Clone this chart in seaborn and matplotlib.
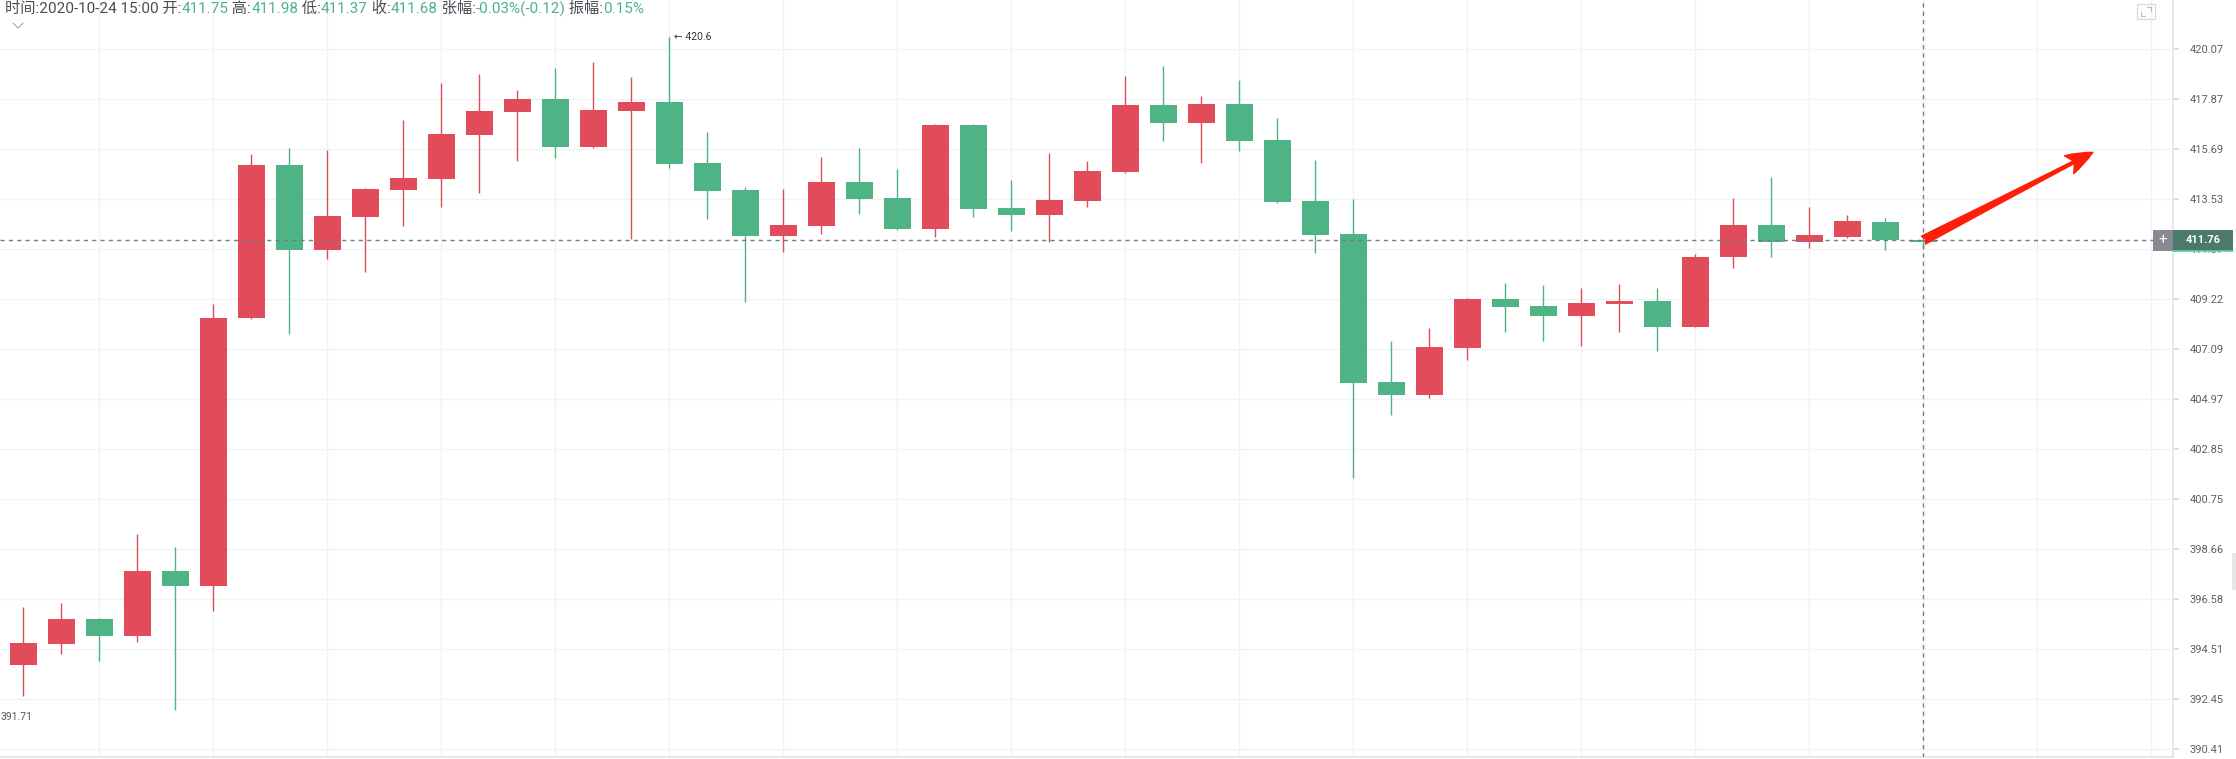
import seaborn as sns
import matplotlib
matplotlib.use('Agg')

import matplotlib.pyplot as plt
import matplotlib.patches as mpatches
from matplotlib.lines import Line2D
from matplotlib.ticker import NullLocator

# свечи (Open / High / Low / Close), 51 штука
opens = [393.86, 394.73, 395.75, 395.06, 397.74, 397.13, 408.44, 415.00, 411.34, 412.77,
         413.93, 414.41, 416.31, 417.32, 417.87, 415.79, 417.36, 417.74, 415.09, 413.92,
         411.94, 412.38, 414.27, 413.57, 412.22, 416.74, 413.14, 412.85, 413.46, 414.71,
         417.61, 416.84, 417.65, 416.08, 413.45, 412.02, 405.69, 405.15, 407.15, 409.22,
         408.92, 408.51, 409.02, 409.13, 408.03, 411.03, 412.41, 411.67, 411.89, 412.54,
         411.75]
highs = [396.25, 396.40, 395.81, 399.27, 398.74, 409.01, 415.50, 415.76, 415.66, 414.00,
         416.95, 418.59, 419.00, 418.27, 419.23, 419.51, 418.85, 420.60, 416.43, 414.05,
         413.96, 415.37, 415.73, 414.82, 416.81, 416.78, 414.34, 415.52, 415.20, 418.90,
         419.34, 418.00, 418.72, 417.04, 415.21, 413.53, 407.43, 407.98, 409.26, 409.90,
         409.82, 409.69, 409.86, 409.69, 411.16, 413.57, 414.48, 413.18, 412.84, 412.71,
         411.98]
lows = [392.57, 394.30, 394.00, 394.81, 392.01, 396.10, 408.38, 407.73, 410.97, 410.41,
        412.35, 413.18, 413.78, 415.20, 415.30, 415.75, 411.80, 414.88, 412.66, 409.11,
        411.25, 412.02, 412.89, 412.20, 411.90, 412.77, 412.16, 411.67, 413.20, 414.68,
        416.04, 415.10, 415.62, 413.38, 411.21, 401.64, 404.30, 405.01, 406.64, 407.83,
        407.42, 407.23, 407.83, 407.00, 408.03, 410.55, 411.03, 411.41, 411.85, 411.34,
        411.37]
closes = [394.76, 395.75, 395.06, 397.74, 397.13, 408.44, 415.00, 411.34, 412.80, 413.96,
          414.44, 416.34, 417.35, 417.87, 415.79, 417.39, 417.74, 415.06, 413.89, 411.94,
          412.41, 414.27, 413.54, 412.22, 416.74, 413.11, 412.85, 413.49, 414.74, 417.61,
          416.84, 417.65, 416.05, 413.42, 411.99, 405.66, 405.15, 407.17, 409.22, 408.89,
          408.51, 409.05, 409.13, 408.03, 411.03, 412.41, 411.67, 411.98, 412.58, 411.77,
          411.68]

price_ticks = [390.41, 392.45, 394.51, 396.58, 398.66, 400.75, 402.85, 404.97,
               407.09, 409.22, 411.37, 413.53, 415.69, 417.87, 420.07]
last_price = 411.76
max_mark = 420.6
min_mark = 391.71

header = [("时间:2020-10-24 15:00 开:", "#4a4d55"), ("411.75", "#4eb386"),
          (" 高:", "#4a4d55"), ("411.98", "#4eb386"),
          (" 低:", "#4a4d55"), ("411.37", "#4eb386"),
          (" 收:", "#4a4d55"), ("411.68", "#4eb386"),
          (" 张幅:", "#4a4d55"), ("-0.03%(-0.12)", "#4eb386"),
          (" 振幅:", "#4a4d55"), ("0.15%", "#4eb386")]

UP = "#e24b5a"
DOWN = "#4fb485"

sns.set_theme(style="white")
plt.rcParams['font.family'] = ['Roboto', 'Noto Sans CJK SC', 'DejaVu Sans']

W, H = 2236, 759
fig = plt.figure(figsize=(W / 100, H / 100), dpi=100)
ax = fig.add_axes([0, 1 - 757 / H, 2173 / W, 757 / H])

x = list(range(len(opens)))
colors = [UP if c >= o else DOWN for o, c in zip(opens, closes)]
bottoms = [min(o, c) for o, c in zip(opens, closes)]
heights = [max(abs(c - o), 0.03) for o, c in zip(opens, closes)]

ax.vlines(x, lows, highs, colors=colors, linewidth=1.0, zorder=3)
ax.bar(x, heights, bottom=bottoms, width=0.71, color=colors, linewidth=0, zorder=4)

ax.set_yscale('log')
ax.set_ylim(390.08, 422.24)
ax.set_xlim(-0.618, 56.57)
ax.set_yticks(price_ticks)
ax.set_yticklabels([f"{v:.2f}" for v in price_ticks])
ax.yaxis.set_minor_locator(NullLocator())
ax.set_xticks(list(range(2, 57, 3)))
ax.set_xticklabels([])
ax.yaxis.tick_right()
ax.tick_params(axis='y', length=4, color='#d5d8dd', pad=8, labelsize=8, labelcolor='#5c5f66')
ax.tick_params(axis='x', length=0)
ax.grid(True, color='#f0f2f5', linewidth=1.0, zorder=0)
for side in ['top', 'left']:
    ax.spines[side].set_visible(False)
ax.spines['right'].set_color('#e3e5e9')
ax.spines['bottom'].set_color('#e3e5e9')

# перекрестие
ax.axvline(50, color='#6f7e8d', linewidth=1, linestyle=(0, (3, 3)), zorder=5)
ax.axhline(last_price, color='#6f7e8d', linewidth=1, linestyle=(0, (3, 3)), zorder=5)

# отметки максимума и минимума
ax.text(17.13, max_mark, f"← {max_mark}", fontsize=7.5, color='#333333', va='center', ha='left',
        family=['Roboto', 'DejaVu Sans'])
ax.text(-0.6, min_mark, f"{min_mark}", fontsize=7.5, color='#555555', va='center', ha='left')

# красная стрелка
ax.annotate('', xy=(54.46, 415.56), xytext=(50, last_price),
            arrowprops=dict(arrowstyle='fancy,head_length=1.2,head_width=0.9,tail_width=0.4',
                            color='#ff1e0a', shrinkA=0, shrinkB=0, mutation_scale=16),
            zorder=6)

# метка текущей цены справа
ytr = ax.get_yaxis_transform()
bw = 60 / 2173
ax.add_patch(mpatches.Rectangle((1.0, 411.30), bw, 0.89, transform=ytr, clip_on=False,
                                facecolor='#4b7a6b', edgecolor='none', zorder=10))
ax.plot([1.0, 1.0 + bw], [411.28, 411.28], transform=ytr, clip_on=False, color='#5fd0a0',
        linewidth=1.2, zorder=11)
ax.text(1.0 + bw / 2, last_price, f"{last_price:.2f}", transform=ytr, color='white',
        fontsize=8, fontweight='bold', ha='center', va='center', zorder=12, clip_on=False)
pw = 20 / 2173
ax.add_patch(mpatches.Rectangle((1.0 - pw, 411.30), pw, 0.89, transform=ytr, clip_on=False,
                                facecolor='#878a92', edgecolor='none', zorder=10))
ax.text(1.0 - pw / 2, last_price, "+", transform=ytr, color='white', fontsize=11,
        ha='center', va='center', zorder=12, clip_on=False)

# шапка с OHLC
prev = fig.text(5 / W, 1 - 9 / H, header[0][0], color=header[0][1], fontsize=11, va='center')
for txt, col in header[1:]:
    prev = ax.annotate(txt, xy=(1, 0.5), xycoords=prev, va='center', ha='left',
                       color=col, fontsize=11, annotation_clip=False)
fig.lines.append(Line2D([13 / W, 18 / W, 23 / W], [1 - 23 / H, 1 - 28 / H, 1 - 23 / H],
                        transform=fig.transFigure, color='#a3a6ab', linewidth=0.8))

# иконка в правом верхнем углу и правая полоска
fig.patches.append(mpatches.Rectangle((2137 / W, 1 - 19 / H), 18 / W, 15 / H, transform=fig.transFigure,
                                      fill=False, edgecolor='#d3d6db', linewidth=0.8))
fig.lines.append(Line2D([2141 / W, 2141 / W, 2145 / W], [1 - 12 / H, 1 - 16 / H, 1 - 16 / H],
                        transform=fig.transFigure, color='#b8bbc0', linewidth=0.8))
fig.lines.append(Line2D([2147 / W, 2151 / W, 2151 / W], [1 - 7 / H, 1 - 7 / H, 1 - 11 / H],
                        transform=fig.transFigure, color='#b8bbc0', linewidth=0.8))
fig.patches.append(mpatches.Rectangle((2232 / W, 1 - 590 / H), 4 / W, 37 / H, transform=fig.transFigure,
                                      facecolor='#e6e7ea', edgecolor='none'))

fig.savefig('out.png', dpi=100, facecolor='white')
plt.close()
